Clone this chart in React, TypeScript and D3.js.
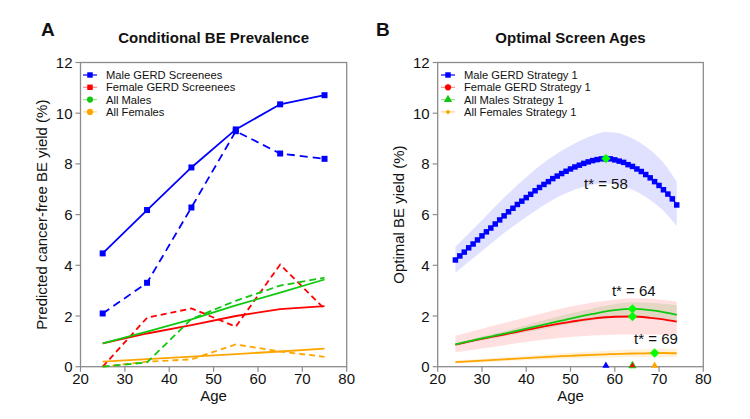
import React from 'react';
import * as d3 from 'd3';

// ---- Panel A data (conditional BE prevalence) ----
const agesA = [25, 35, 45, 55, 65, 75];
const maleGerdA = [4.47, 6.18, 7.86, 9.36, 10.35, 10.71];
const maleGerdDashA = [2.1, 3.31, 6.28, 9.29, 8.41, 8.2];
const femaleGerdA = [0.92, 1.31, 1.64, 2.0, 2.27, 2.39];
const femaleGerdDashA = [0.0, 1.93, 2.3, 1.58, 4.03, 2.28];
const allMalesA = [0.92, 1.38, 1.87, 2.42, 2.92, 3.44];
const allMalesDashA = [0.0, 0.17, 1.88, 2.6, 3.2, 3.51];
const allFemalesA = [0.2, 0.3, 0.4, 0.5, 0.6, 0.71];
const allFemalesDashA = [0.0, 0.2, 0.29, 0.88, 0.6, 0.39];

// ---- Panel B data (optimal screen ages) ----
const agesB = [
  24, 25, 26, 27, 28, 29, 30, 31, 32, 33, 34, 35, 36, 37, 38, 39, 40, 41, 42, 43, 44, 45, 46, 47, 48, 49,
  50, 51, 52, 53, 54, 55, 56, 57, 58, 59, 60, 61, 62, 63, 64, 65, 66, 67, 68, 69, 70, 71, 72, 73, 74,
];
const maleStrategyB = [
  4.21, 4.37, 4.52, 4.69, 4.84, 5.0, 5.16, 5.32, 5.47, 5.63, 5.79, 5.95, 6.11, 6.25, 6.4, 6.53, 6.67, 6.8,
  6.94, 7.07, 7.19, 7.3, 7.42, 7.52, 7.62, 7.71, 7.8, 7.88, 7.95, 8.02, 8.08, 8.13, 8.17, 8.2, 8.21, 8.2,
  8.16, 8.11, 8.06, 7.97, 7.9, 7.8, 7.7, 7.58, 7.45, 7.3, 7.15, 6.98, 6.81, 6.62, 6.38,
];
const bandAgesB = [24, 30, 35, 40, 45, 50, 55, 58, 60, 64, 68, 71, 74];
const maleUpperB = [4.73, 5.78, 6.67, 7.47, 8.18, 8.72, 9.12, 9.26, 9.24, 9.0, 8.55, 8.05, 7.3];
const maleLowerB = [3.71, 4.56, 5.27, 5.91, 6.48, 6.92, 7.18, 7.23, 7.2, 6.98, 6.58, 6.15, 5.55];
const femaleLineB = [0.87, 1.1, 1.27, 1.45, 1.62, 1.77, 1.9, 1.95, 1.97, 1.98, 1.93, 1.87, 1.78];
const femaleUpperB = [1.22, 1.5, 1.72, 1.95, 2.17, 2.37, 2.53, 2.6, 2.64, 2.7, 2.68, 2.63, 2.57];
const femaleLowerB = [0.57, 0.72, 0.85, 0.97, 1.08, 1.17, 1.23, 1.25, 1.26, 1.27, 1.27, 1.26, 1.25];
const allMalesLineB = [0.88, 1.12, 1.3, 1.5, 1.7, 1.9, 2.08, 2.18, 2.23, 2.28, 2.23, 2.15, 2.04];
const allMalesUpperB = [0.92, 1.19, 1.4, 1.64, 1.88, 2.1, 2.3, 2.4, 2.46, 2.54, 2.52, 2.48, 2.42];
const allMalesLowerB = [0.84, 1.05, 1.2, 1.36, 1.53, 1.69, 1.83, 1.9, 1.94, 1.99, 1.95, 1.88, 1.8];
const allFemalesLineB = [0.18, 0.24, 0.29, 0.34, 0.39, 0.43, 0.47, 0.49, 0.5, 0.52, 0.53, 0.54, 0.53];
const allFemalesUpperB = [0.24, 0.31, 0.37, 0.43, 0.49, 0.55, 0.6, 0.63, 0.65, 0.68, 0.7, 0.71, 0.7];
const allFemalesLowerB = [0.13, 0.17, 0.22, 0.25, 0.29, 0.32, 0.35, 0.36, 0.37, 0.38, 0.38, 0.38, 0.36];

// optimal ages: [age, yield]
const optimaB: [number, number][] = [[58, 8.21], [64, 2.28], [64, 1.98], [69, 0.54]];
const optimaLabels = [
  { text: 't* = 58', age: 58, y: 7.0 },
  { text: 't* = 64', age: 64.3, y: 2.78 },
  { text: 't* = 69', age: 69.3, y: 0.9 },
];

const xTicks = [20, 30, 40, 50, 60, 70, 80];
const yTicks = [0, 2, 4, 6, 8, 10, 12];

const FONT = '"Liberation Sans", Arial, sans-serif';
const BLUE = '#0000ff';
const RED = '#ff0000';
const GREEN = '#11c811';
const ORANGE = '#ffa500';
const AXIS = '#8c8c8c';

const top = 62.5;
const bottom = 366.7;

type Pt = [number, number];
const zip = (xs: number[], ys: number[]): Pt[] => xs.map((x, i) => [x, ys[i]]);

const Axes: React.FC<{
  x: d3.ScaleLinear<number, number>;
  y: d3.ScaleLinear<number, number>;
  ylabel: string;
  title: string;
  letter: string;
  letterX: number;
}> = ({ x, y, ylabel, title, letter, letterX }) => {
  const [x0, x1] = x.range();
  const cx = (x0 + x1) / 2;
  return (
    <g fontFamily={FONT}>
      <rect x={x0} y={top} width={x1 - x0} height={bottom - top} fill="none" stroke={AXIS} strokeWidth={1.3} />
      {xTicks.map(t => (
        <g key={t}>
          <line x1={x(t)} x2={x(t)} y1={bottom} y2={bottom + 5} stroke={AXIS} strokeWidth={1.2} />
          <text x={x(t)} y={bottom + 17} textAnchor="middle" fontSize={15} fill="#111">{t}</text>
        </g>
      ))}
      {yTicks.map(t => (
        <g key={t}>
          <line x1={x0 - 5} x2={x0} y1={y(t)} y2={y(t)} stroke={AXIS} strokeWidth={1.2} />
          <text x={x0 - 8} y={y(t) + 5.5} textAnchor="end" fontSize={15} fill="#111">{t}</text>
        </g>
      ))}
      <text x={cx} y={401} textAnchor="middle" fontSize={15} fill="#111">Age</text>
      <text
        transform={`translate(${x0 - 34},${(top + bottom) / 2}) rotate(-90)`}
        textAnchor="middle"
        fontSize={15}
        fill="#111"
      >
        {ylabel}
      </text>
      <text x={cx} y={43} textAnchor="middle" fontSize={15} fontWeight="bold" fill="#111">{title}</text>
      <text x={letterX} y={36} fontSize={19} fontWeight="bold" fill="#111">{letter}</text>
    </g>
  );
};

const symbolPath = (type: d3.SymbolType, size: number) => d3.symbol().type(type).size(size)() || '';

const Legend: React.FC<{
  x: number;
  items: { label: string; color: string; lineOpacity: number; symbol: d3.SymbolType; size: number }[];
}> = ({ x, items }) => (
  <g fontFamily={FONT}>
    {items.map((it, i) => {
      const yy = 75 + i * 12.3;
      return (
        <g key={it.label}>
          <line x1={x} x2={x + 14} y1={yy} y2={yy} stroke={it.color} strokeOpacity={it.lineOpacity} strokeWidth={1.2} />
          <path d={symbolPath(it.symbol, it.size)} transform={`translate(${x + 7},${yy})`} fill={it.color} />
          <text x={x + 23} y={yy + 4} fontSize={11.2} fill="#111">{it.label}</text>
        </g>
      );
    })}
  </g>
);

const PanelA: React.FC = () => {
  const x = d3.scaleLinear().domain([20, 80]).range([80.5, 346.7]);
  const y = d3.scaleLinear().domain([0, 12]).range([bottom, top]);
  const line = d3.line<Pt>().x(d => x(d[0])).y(d => y(d[1]));
  const square = symbolPath(d3.symbolSquare, 36);

  const series = [
    { data: allFemalesA, color: ORANGE, dash: undefined },
    { data: allFemalesDashA, color: ORANGE, dash: '6,4' },
    { data: femaleGerdA, color: RED, dash: undefined },
    { data: femaleGerdDashA, color: RED, dash: '6,4' },
    { data: allMalesA, color: GREEN, dash: undefined },
    { data: allMalesDashA, color: GREEN, dash: '7,4' },
    { data: maleGerdA, color: BLUE, dash: undefined },
    { data: maleGerdDashA, color: BLUE, dash: '8,5' },
  ];

  return (
    <g>
      <Axes x={x} y={y} ylabel="Predicted cancer-free BE yield (%)" title="Conditional BE Prevalence" letter="A" letterX={41} />
      {series.map((s, i) => (
        <path key={i} d={line(zip(agesA, s.data)) || ''} fill="none" stroke={s.color} strokeWidth={1.8} strokeDasharray={s.dash} />
      ))}
      {[maleGerdA, maleGerdDashA].map((arr, k) =>
        agesA.map((a, i) => (
          <path key={`${k}-${i}`} d={square} transform={`translate(${x(a)},${y(arr[i])})`} fill={BLUE} />
        )),
      )}
      <Legend
        x={83}
        items={[
          { label: 'Male GERD Screenees', color: BLUE, lineOpacity: 1, symbol: d3.symbolSquare, size: 30 },
          { label: 'Female GERD Screenees', color: RED, lineOpacity: 0.45, symbol: d3.symbolSquare, size: 30 },
          { label: 'All Males', color: GREEN, lineOpacity: 0.45, symbol: d3.symbolCircle, size: 30 },
          { label: 'All Females', color: ORANGE, lineOpacity: 0.45, symbol: d3.symbolCircle, size: 30 },
        ]}
      />
    </g>
  );
};

const PanelB: React.FC = () => {
  const x = d3.scaleLinear().domain([20, 80]).range([437.7, 703.3]);
  const y = d3.scaleLinear().domain([0, 12]).range([bottom, top]);
  const line = d3.line<Pt>().x(d => x(d[0])).y(d => y(d[1])).curve(d3.curveMonotoneX);
  const band = (lo: number[], hi: number[]) =>
    d3
      .area<number>()
      .x(a => x(a))
      .y0((_, i) => y(lo[i]))
      .y1((_, i) => y(hi[i]))
      .curve(d3.curveMonotoneX)(bandAgesB) || '';
  const square = symbolPath(d3.symbolSquare, 30);
  const diamond = symbolPath(d3.symbolDiamond2, 55);
  const tri = symbolPath(d3.symbolTriangle, 22);

  return (
    <g>
      <path d={band(maleLowerB, maleUpperB)} fill="rgba(0,0,255,0.12)" />
      <path d={band(allFemalesLowerB, allFemalesUpperB)} fill="rgba(255,165,0,0.15)" />
      <path d={band(femaleLowerB, femaleUpperB)} fill="rgba(255,0,0,0.12)" />
      <path d={band(allMalesLowerB, allMalesUpperB)} fill="rgba(40,150,0,0.13)" />
      <Axes x={x} y={y} ylabel="Optimal BE yield (%)" title="Optimal Screen Ages" letter="B" letterX={376} />
      <path d={line(zip(agesB, maleStrategyB)) || ''} fill="none" stroke={BLUE} strokeWidth={1.5} />
      {agesB.map((a, i) => (
        <path key={a} d={square} transform={`translate(${x(a)},${y(maleStrategyB[i])})`} fill={BLUE} />
      ))}
      <path d={line(zip(bandAgesB, allFemalesLineB)) || ''} fill="none" stroke={ORANGE} strokeWidth={1.8} />
      <path d={line(zip(bandAgesB, femaleLineB)) || ''} fill="none" stroke={RED} strokeWidth={1.8} />
      <path d={line(zip(bandAgesB, allMalesLineB)) || ''} fill="none" stroke={GREEN} strokeWidth={1.8} />
      {optimaB.map(([a, v], i) => (
        <path key={i} d={diamond} transform={`translate(${x(a)},${y(v)})`} fill="#00ff00" />
      ))}
      {optimaLabels.map(l => (
        <text key={l.text} x={x(l.age)} y={y(l.y)} textAnchor="middle" fontSize={15} fontFamily={FONT} fill="#111">
          {l.text}
        </text>
      ))}
      <path d={tri} transform={`translate(${x(58)},${y(0) - 1})`} fill={BLUE} />
      <path d={tri} transform={`translate(${x(64)},${y(0) - 1})`} fill={RED} stroke={GREEN} strokeWidth={1} />
      <path d={tri} transform={`translate(${x(69)},${y(0) - 1})`} fill={ORANGE} />
      <Legend
        x={441}
        items={[
          { label: 'Male GERD Strategy 1', color: BLUE, lineOpacity: 1, symbol: d3.symbolSquare, size: 30 },
          { label: 'Female GERD Strategy 1', color: RED, lineOpacity: 0.45, symbol: d3.symbolCircle, size: 30 },
          { label: 'All Males Strategy 1', color: GREEN, lineOpacity: 0.45, symbol: d3.symbolTriangle, size: 30 },
          { label: 'All Females Strategy 1', color: ORANGE, lineOpacity: 0.45, symbol: d3.symbolDiamond2, size: 16 },
        ]}
      />
    </g>
  );
};

export default function App() {
  return (
    <svg width={750} height={419} style={{ position: 'absolute', left: 0, top: 0, background: '#fff' }}>
      <rect width={750} height={419} fill="#fff" />
      <PanelA />
      <PanelB />
    </svg>
  );
}
